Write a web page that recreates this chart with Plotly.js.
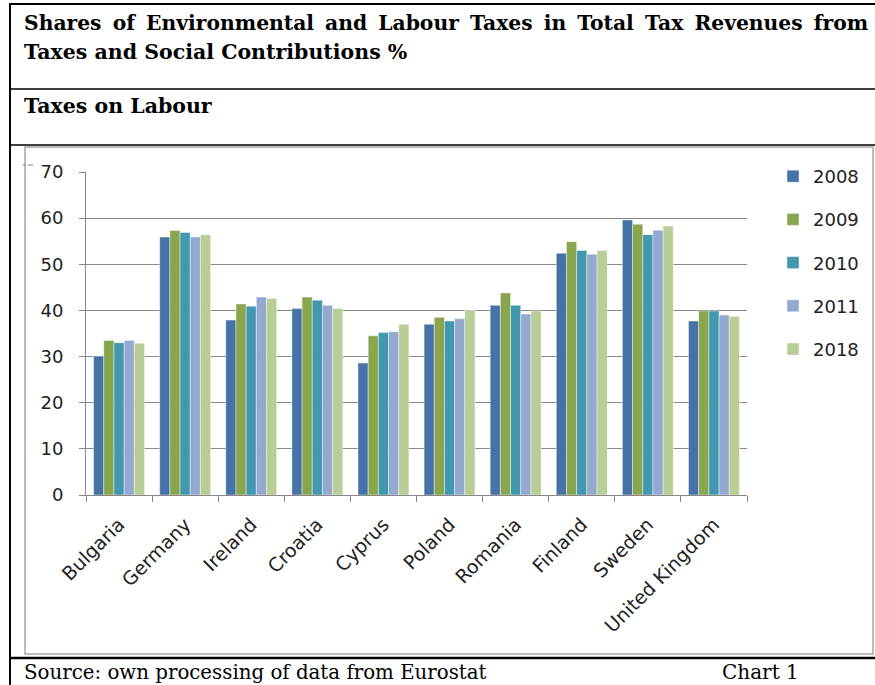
<!DOCTYPE html>
<html>
<head>
<meta charset="utf-8">
<script src="https://cdn.plot.ly/plotly-3.0.1.min.js"></script>
<style>
html,body{margin:0;padding:0;background:#fff;}
#chart{width:875px;height:685px;}
</style>
</head>
<body>
<div id="chart"></div>
<script>
// ---- data ----
const countries = ["Bulgaria","Germany","Ireland","Croatia","Cyprus","Poland","Romania","Finland","Sweden","United Kingdom"];
const years = ["2008","2009","2010","2011","2018"];
const v2008 = [30.1, 55.9, 37.9, 40.4, 28.6, 37.0, 41.1, 52.4, 59.6, 37.7];
const v2009 = [33.5, 57.3, 41.4, 42.9, 34.5, 38.5, 43.8, 54.9, 58.7, 39.9];
const v2010 = [33.0, 56.9, 40.9, 42.2, 35.2, 37.7, 41.1, 53.0, 56.4, 39.9];
const v2011 = [33.5, 55.9, 42.9, 41.1, 35.4, 38.2, 39.2, 52.2, 57.4, 39.0];
const v2018 = [32.9, 56.4, 42.6, 40.4, 37.0, 40.1, 39.9, 53.0, 58.3, 38.7];
const yTicks = [0,10,20,30,40,50,60,70];

const seriesValues = [v2008, v2009, v2010, v2011, v2018];
const colors = ["#4572A7","#89A54E","#4198AF","#93A9CF","#B9CD96"];

// plot area in pixels
const W = 875, H = 685;
const L = 86, R = 747, T = 172, B = 495;
const px = x => (x - L) / (R - L);
const py = y => (B - y) / (B - T);

const traces = years.map((yr, i) => ({
  type: "bar",
  name: yr,
  x: countries,
  y: seriesValues[i],
  marker: {color: colors[i], line: {color: "rgba(255,255,255,0.7)", width: 0.6}},
  legendgroup: "g" + i,
  hoverinfo: "x+y+name"
}));

function hline(x0, x1, y, color, w) {
  return {type: "line", xref: "paper", yref: "paper", x0: px(x0), x1: px(x1), y0: py(y), y1: py(y), line: {color: color, width: w}, layer: "above"};
}
function vline(x, y0, y1, color, w) {
  return {type: "line", xref: "paper", yref: "paper", x0: px(x), x1: px(x), y0: py(y0), y1: py(y1), line: {color: color, width: w}, layer: "above"};
}

const shapes = [
  hline(10, 875, 4, "#000", 2),
  vline(10, 3, 685, "#000", 2),
  hline(10, 875, 89, "#000", 1.5),
  hline(10, 875, 145, "#000", 1.5),
  {type: "rect", xref: "paper", yref: "paper", x0: px(25), x1: px(873), y0: py(147), y1: py(654), line: {color: "#a6a6a6", width: 1.5}, layer: "below"},
  hline(10, 875, 658, "#000", 2.5),
  hline(23, 26, 165, "#808080", 1),
  hline(28, 33, 165, "#808080", 1)
];

function txt(text, x, y, size, family, bold, anchor) {
  return {
    text: bold ? "<b>" + text + "</b>" : text,
    xref: "paper", yref: "paper", x: px(x), y: py(y),
    xanchor: anchor || "left", yanchor: "middle",
    showarrow: false,
    font: {family: family, size: size, color: "#000"}
  };
}
const serifB = "DejaVu Serif, serif";
const line1 = "Shares of Environmental and Labour Taxes in Total Tax Revenues from".split(" ").join(" \u2009");
const annotations = [
  txt(line1, 22, 23, 20.3, serifB, true),
  txt("Taxes and Social Contributions %", 22, 52, 20.5, serifB, true),
  txt("Taxes on Labour", 22, 106, 20.5, serifB, true),
  txt("Source: own processing of data from Eurostat", 22, 672, 19.8, serifB, false),
  txt("Chart 1", 720, 672, 20, serifB, false)
];

const sans = "DejaVu Sans, sans-serif";
const layout = {
  width: W, height: H,
  margin: {l: L, r: W - R, t: T, b: H - B, pad: 0, autoexpand: false},
  paper_bgcolor: "#fff", plot_bgcolor: "#fff",
  font: {family: sans, color: "#222"},
  barmode: "group",
  bargap: 0.23,
  bargroupgap: 0,
  showlegend: true,
  legend: {
    xref: "container", yref: "container",
    x: 773 / W, y: 1 - 158 / H, xanchor: "left", yanchor: "top",
    font: {size: 18, color: "#222", family: sans},
    tracegroupgap: 16.8, traceorder: "grouped",
    bgcolor: "rgba(0,0,0,0)"
  },
  xaxis: {
    type: "category",
    tickangle: -45,
    tickson: "boundaries",
    ticks: "outside", ticklen: 6, tickcolor: "#888", tickwidth: 1,
    showline: true, linecolor: "#888", linewidth: 1,
    showgrid: false,
    automargin: false,
    ticklabelstandoff: 10,
    tickfont: {size: 19, color: "#222", family: sans},
    fixedrange: true
  },
  yaxis: {
    range: [0, 70],
    tickvals: yTicks,
    ticktext: yTicks.map(String),
    ticks: "outside", ticklen: 6, tickcolor: "#888", tickwidth: 1,
    showline: true, linecolor: "#888", linewidth: 1,
    showgrid: true, gridcolor: "#8a8a8a", gridwidth: 1.2,
    zeroline: false,
    automargin: false,
    ticklabelstandoff: 12,
    tickfont: {size: 18, color: "#222", family: sans},
    fixedrange: true
  },
  shapes: shapes,
  annotations: annotations
};

Plotly.newPlot("chart", traces, layout, {displayModeBar: false, staticPlot: true});
</script>
</body>
</html>
